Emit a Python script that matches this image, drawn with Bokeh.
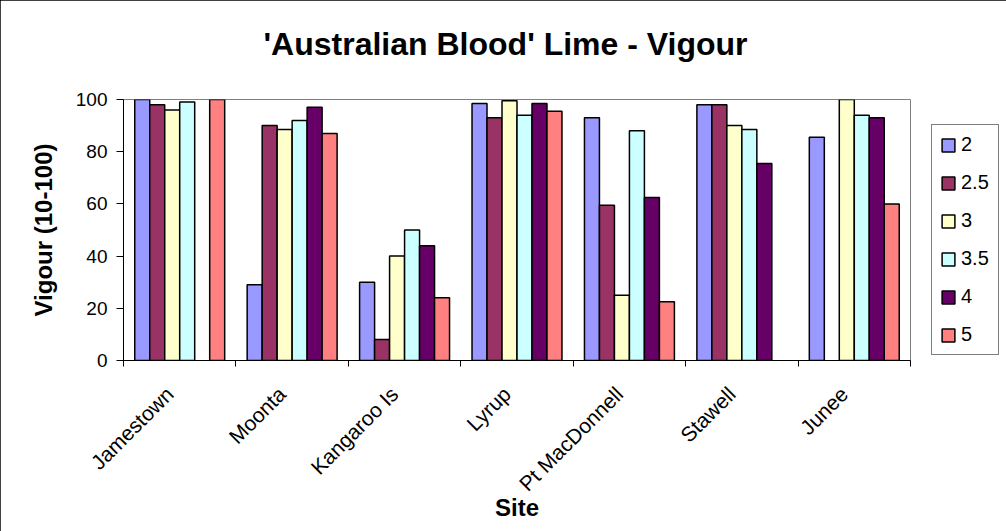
import math
from bokeh.plotting import figure
from bokeh.models import (ColumnDataSource, Range1d, FixedTicker, Legend, LegendItem, Title)
from bokeh.transform import dodge
from bokeh.embed import file_html
from bokeh.resources import INLINE

# ---- data ----
sites = ["Jamestown", "Moonta", "Kangaroo Is", "Lyrup", "Pt MacDonnell", "Stawell", "Junee"]
series_names = ["2", "2.5", "3", "3.5", "4", "5"]
vigour_2 = [100, 29, 30, 98.5, 93, 98, 85.5]
vigour_2_5 = [98, 90, 8, 93, 59.5, 98, None]
vigour_3 = [96, 88.5, 40, 99.5, 25, 90, 100]
vigour_3_5 = [99, 92, 50, 94, 88, 88.5, 94]
vigour_4 = [None, 97, 44, 98.5, 62.5, 75.5, 93]
vigour_5 = [100, 87, 24, 95.5, 22.5, None, 60]
y_ticks = [0, 20, 40, 60, 80, 100]

series_values = [vigour_2, vigour_2_5, vigour_3, vigour_3_5, vigour_4, vigour_5]
series_colors = ["#9999FF", "#993366", "#FFFFCC", "#CCFFFF", "#660066", "#FF8080"]

FONT = "Liberation Sans"
n_sites = len(sites)
n_series = len(series_names)
bar_w = 1.0 / (n_series + 1.5)   # Excel gap width 150%

p = figure(
    frame_width=787, frame_height=261,
    min_border_left=123, min_border_right=96, min_border_top=99, min_border_bottom=171,
    x_range=Range1d(0, n_sites), y_range=Range1d(0, 100),
    output_backend="svg", toolbar_location=None,
    background_fill_color="white", border_fill_color="white",
)
p.styles = {"outline": "1px solid black", "outline-offset": "-1px"}
p.outline_line_color = "#808080"
p.outline_line_width = 1
p.xgrid.visible = False
p.ygrid.visible = False

centers = [i + 0.5 for i in range(n_sites)]
bounds = [float(i) for i in range(n_sites + 1)]
label_pos = [c - 0.09 for c in centers]   # rotated labels end just left of group centre

legend_items = []
for j, (name, vals, color) in enumerate(zip(series_names, series_values, series_colors)):
    xc = [c for c, v in zip(centers, vals) if v is not None]
    vv = [v for v in vals if v is not None]
    src = ColumnDataSource(dict(xc=xc, v=vv))
    off = (j - (n_series - 1) / 2) * bar_w
    r = p.vbar(x=dodge("xc", off, range=p.x_range), top="v", width=bar_w, bottom=0,
               source=src, fill_color=color, line_color="black", line_width=1.5)
    legend_items.append(LegendItem(label=name, renderers=[r]))

# x axis: labels near group centres, ticks at group boundaries
xa = p.xaxis[0]
xa.ticker = FixedTicker(ticks=label_pos, minor_ticks=bounds)
xa.major_label_overrides = {c: s for c, s in zip(label_pos, sites)}
xa.major_label_orientation = math.pi / 4
xa.major_tick_in = 0
xa.major_tick_out = 0
xa.minor_tick_in = 0
xa.minor_tick_out = 6
xa.minor_tick_line_color = "black"
xa.axis_line_color = "black"
xa.major_label_text_font = FONT
xa.major_label_text_font_size = "21px"
xa.major_label_text_color = "black"
xa.major_label_standoff = 24
xa.axis_label = "Site"
xa.axis_label_text_font = FONT
xa.axis_label_text_font_style = "bold"
xa.axis_label_text_font_size = "24px"
xa.axis_label_text_color = "black"
xa.axis_label_standoff = -12

ya = p.yaxis[0]
ya.ticker = FixedTicker(ticks=y_ticks)
ya.major_tick_in = 0
ya.major_tick_out = 7
ya.major_tick_line_color = "black"
ya.minor_tick_line_color = None
ya.axis_line_color = "black"
ya.major_label_text_font = FONT
ya.major_label_text_font_size = "19px"
ya.major_label_text_color = "black"
ya.major_label_standoff = 9
ya.axis_label = "Vigour (10-100)"
ya.axis_label_text_font = FONT
ya.axis_label_text_font_style = "bold"
ya.axis_label_text_font_size = "24px"
ya.axis_label_text_color = "black"
ya.axis_label_standoff = 16

# main title (outermost panel)
p.title.text = "'Australian Blood' Lime - Vigour"
p.title.align = "left"
p.title.offset = 140
p.title.vertical_align = "bottom"
p.title.standoff = 0
p.title.text_font = FONT
p.title.text_font_style = "bold"
p.title.text_font_size = "32px"
p.title.text_color = "black"

# blank spacer panel between the title and the plot area
spacer = Title(text=" ", text_font_size="1px", standoff=35)
p.add_layout(spacer, "above")

legend = Legend(
    items=legend_items, location=(21, 5),
    border_line_color="black", border_line_width=1,
    background_fill_color="white", background_fill_alpha=1,
    padding=8, spacing=15, margin=11,
    glyph_width=16, glyph_height=16, label_height=23, label_width=29,
    label_standoff=5,
    label_text_font=FONT, label_text_font_size="20px", label_text_color="black",
)
p.add_layout(legend, "right")

open("out.html", "w").write(file_html(p, INLINE))
